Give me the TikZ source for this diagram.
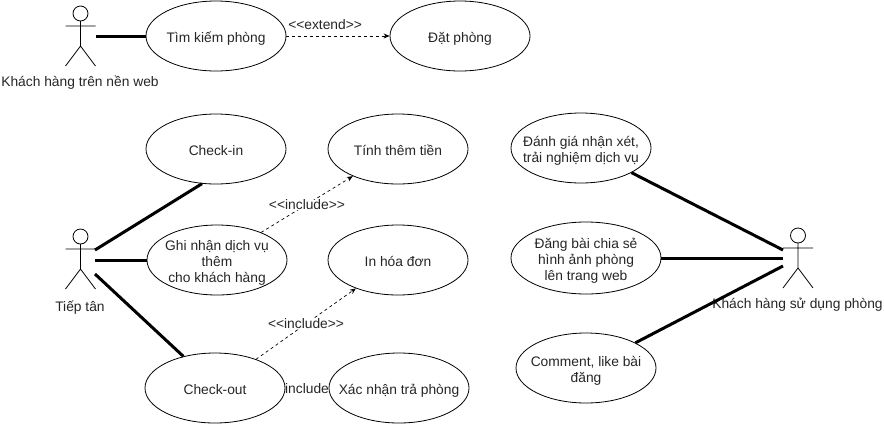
\documentclass[tikz,border=0pt]{standalone}
\usepackage{fontspec}
\setmainfont{Liberation Sans}
\usetikzlibrary{arrows.meta,shapes.geometric}
\newcommand{\uc}[1]{\makebox[0pt]{\raisebox{-6.5pt}[0pt][0pt]{\begin{tabular}{@{}c@{}}#1\end{tabular}}}}
\tikzset{
  x=1pt,y=-1pt,
  usecase/.style={draw,ellipse,line width=0.8pt,minimum width=140pt,minimum height=70pt,inner sep=0pt,font=\fontsize{13.8}{16}\selectfont,text=black!85},
  lbl/.style={inner sep=0pt,anchor=base,font=\fontsize{13.8}{16}\selectfont,text=black!85},
  small/.style={inner sep=0pt,font=\fontsize{13.8}{16}\selectfont,text=black!85},
  assoc/.style={line width=3pt},
  dep/.style={line width=0.7pt,dash pattern=on 3pt off 3pt,-{Stealth[length=6pt,width=5pt]}},
  limb/.style={line width=0.8pt}
}
\newcommand{\actor}[3]{%
  \draw[limb] (#1,#2+7.5) circle[radius=7.5];
  \draw[limb] (#1,#2+15) -- (#1,#2+40) (#1-15,#2+20) -- (#1+15,#2+20)
    (#1-15,#2+60) -- (#1,#2+40) -- (#1+15,#2+60);
  \coordinate (#3) at (#1,#2);
}
\begin{document}
\begin{tikzpicture}
\useasboundingbox (0,0) rectangle (884,424);
\fill[white] (0,0) rectangle (884,424);
\actor{80.5}{6}{a1}
\actor{80.5}{229}{a2}
\actor{798}{228}{a3}
\node[lbl] (t1) at (80,86) {Khách hàng trên nền web};
\node[lbl] (t2) at (80,311) {Tiếp tân};
\node[lbl] (t3) at (797.5,308) {Khách hàng sử dụng phòng};
\node[usecase] (tim) at (216,36) {\uc{Tìm kiếm phòng}};
\node[usecase] (dat) at (460,36) {\uc{Đặt phòng}};
\node[usecase] (cin) at (216,149) {\uc{Check-in}};
\node[usecase] (tinh) at (398,149) {\uc{Tính thêm tiền}};
\node[usecase] (ghi) at (217,260) {\uc{Ghi nhận dịch vụ\\thêm\\cho khách hàng}};
\node[usecase] (inh) at (398,260) {\uc{In hóa đơn}};
\node[usecase] (cout) at (215,388) {\uc{Check-out}};
\node[usecase] (xac) at (399,388) {\uc{Xác nhận trả phòng}};
\node[usecase] (dg) at (581,148) {\uc{Đánh giá nhận xét,\\trải nghiệm dịch vụ}};
\node[usecase,minimum width=150pt,minimum height=72pt] (db) at (586,258) {\uc{Đăng bài chia sẻ\\hình ảnh phòng\\lên trang web}};
\node[usecase] (cm) at (586,368) {\uc{Comment, like bài\\đăng}};
\coordinate (p1) at (96,36);
\coordinate (p2a) at (95,250); \coordinate (p2b) at (95,260); \coordinate (p2c) at (95,274);
\coordinate (p3a) at (783,250); \coordinate (p3b) at (783,258); \coordinate (p3c) at (783,266);
\draw[assoc] (p1) -- (tim.west);
\draw[assoc] (p2a) -- (cin.248);
\draw[assoc] (p2b) -- (ghi.west);
\draw[assoc] (p2c) -- (cout.135);
\draw[assoc] (p3a) -- (dg.-26);
\draw[assoc] (p3b) -- (db.east);
\draw[assoc] (p3c) -- (cm.27);
\draw[dep] (tim.east) -- (dat.west) node[small,pos=.375,yshift=11.5pt] (e1) {<{}<extend>{}>};
\draw[dep] (ghi.32) -- (tinh.211) node[small,midway,fill=white,yshift=-0.5pt] (i1) {<{}<include>{}>};
\draw[dep] (cout.35) -- (inh.214) node[small,midway,fill=white] (i2) {<{}<include>{}>};
\node[lbl] (i3) at (307,393.5) {include};
\end{tikzpicture}
\end{document}
